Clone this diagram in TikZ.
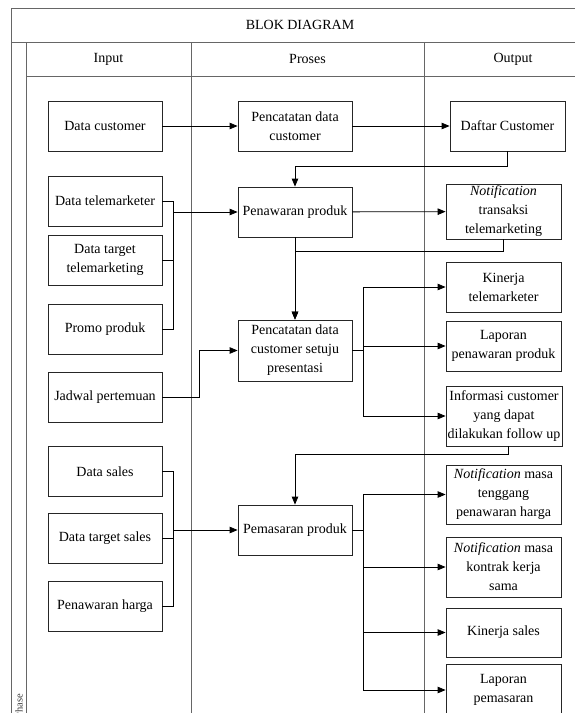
\documentclass[tikz,border=0pt]{standalone}
\usepackage{fontspec}
\setmainfont{Liberation Serif}
\usetikzlibrary{arrows.meta}
\begin{document}
\begin{tikzpicture}[x=1pt,y=-1pt,
  frame/.style={draw=black!60,line width=0.9pt},
  box/.style={draw=black!85,line width=0.8pt,align=center,inner sep=1pt,
    font=\fontsize{14}{19}\selectfont,minimum width=114pt,minimum height=50pt},
  conn/.style={draw=black,line width=0.8pt},
  arr/.style={conn,-{Triangle[length=8pt,width=6.5pt]}},
  hdr/.style={font=\fontsize{14}{17}\selectfont}]
\clip (0,0) rectangle (575,713);
\fill[white] (0,0) rectangle (575,713);
% frame
\draw[frame] (11,720) -- (11,8) -- (610,8);
\draw[frame] (11,42) -- (610,42);
\draw[frame] (26,42) -- (26,720);
\draw[frame] (26,76) -- (610,76);
\draw[frame] (191,42) -- (191,720);
\draw[frame] (424,42) -- (424,720);
\node[hdr] (title) at (300,25) {BLOK DIAGRAM};
\node[hdr] (hin) at (108.5,59) {Input};
\node[hdr] (hpr) at (307.5,59) {Proses};
\node[hdr] (hout) at (513,59) {Output};
\node[rotate=90,font=\fontsize{10.5}{11}\selectfont,text=black!75,inner sep=0pt] (phase) at (19,706) {Phase};
% input boxes
\node[box] (dc) at (105,126) {Data customer};
\node[box] (dtm) at (105,201) {Data telemarketer};
\node[box] (dtt) at (105,260) {Data target\\telemarketing};
\node[box] (pp) at (105,329) {Promo produk};
\node[box] (jp) at (105,397) {Jadwal pertemuan};
\node[box] (ds) at (105,471.5) {Data sales};
\node[box] (dts) at (105,538.5) {Data target sales};
\node[box] (ph) at (105,606) {Penawaran harga};
% process boxes
\node[box] (pdc) at (295,126) {Pencatatan data\\customer};
\node[box] (pen) at (295,212) {Penawaran produk};
\node[box,minimum height=61pt] (pcs) at (295,350.5) {Pencatatan data\\customer setuju\\presentasi};
\node[box] (pem) at (295,530) {Pemasaran produk};
% output boxes
\node[box,minimum width=115pt] (dcu) at (507.5,126) {Daftar Customer};
\node[box,minimum width=115pt,minimum height=55pt] (ntt) at (503.5,211.5) {\textit{Notification}\\transaksi\\telemarketing};
\node[box,minimum width=115pt] (kt) at (503.5,287) {Kinerja\\telemarketer};
\node[box,minimum width=115pt] (lpp) at (503.5,346) {Laporan\\penawaran produk};
\node[box,minimum width=116pt,minimum height=60pt] (ic) at (504,416) {Informasi customer\\yang dapat\\dilakukan follow up};
\node[box,minimum width=115pt,minimum height=59pt] (nmt) at (503.5,494.5) {\textit{Notification} masa\\tenggang\\penawaran harga};
\node[box,minimum width=115pt,minimum height=60pt] (nmk) at (503.5,567) {\textit{Notification} masa\\kontrak kerja\\sama};
\node[box,minimum width=115pt,minimum height=49pt] (ks) at (503.5,632.5) {Kinerja sales};
\node[box,minimum width=115pt,minimum height=52pt] (lp) at (503.5,690) {Laporan\\pemasaran};
% connectors
\coordinate (busA) at (173,212);
\coordinate (busB) at (173,530);
\coordinate (jpk) at (199,397);
\draw[arr] (dc) -- (pdc);
\draw[arr] (pdc) -- (dcu);
\draw[arr] (dcu.south) -- ++(0,15) -| (pen.north);
\draw[conn] (dtm.east) -| (busA);
\draw[conn] (dtt.east) -| (busA);
\draw[conn] (pp.east) -| (busA);
\draw[arr] (busA) -- (pen.west);
\draw[arr] (pen) -- (ntt);
\draw[arr] (pen.south) -- (pcs.north);
\draw[arr] (ntt.south) -- ++(0,12) -| (pcs.north);
\draw[arr] (jp.east) -- (jpk) |- (pcs.west);
\draw[arr] (pcs.east) -- ++(11,0) |- (kt.west);
\draw[arr] (pcs.east) -- ++(11,0) |- (lpp.west);
\draw[arr] (pcs.east) -- ++(11,0) |- (ic.west);
\draw[arr] ([xshift=4pt]ic.south) -- ++(0,8) -| (pem.north);
\draw[conn] (ds.east) -| (busB);
\draw[conn] (dts.east) -| (busB);
\draw[conn] (ph.east) -| (busB);
\draw[arr] (busB) -- (pem.west);
\draw[arr] (pem.east) -- ++(11,0) |- (nmt.west);
\draw[arr] (pem.east) -- ++(11,0) |- (nmk.west);
\draw[arr] (pem.east) -- ++(11,0) |- (ks.west);
\draw[arr] (pem.east) -- ++(11,0) |- (lp.west);
\end{tikzpicture}
\end{document}
